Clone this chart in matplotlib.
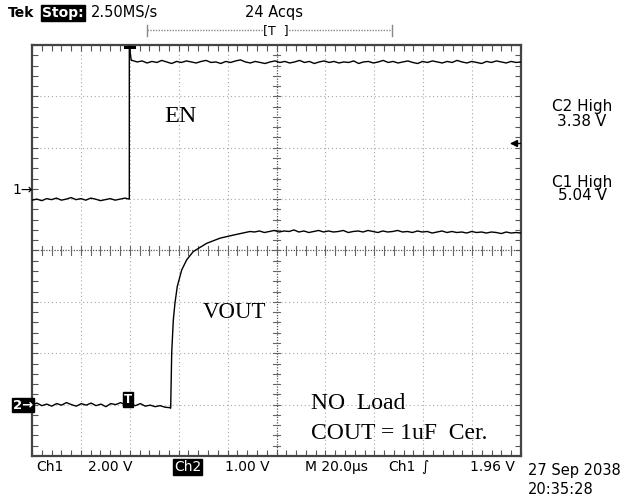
import numpy as np
import matplotlib
matplotlib.use("Agg")
import matplotlib.pyplot as plt
from matplotlib.lines import Line2D
from matplotlib.ticker import MultipleLocator

# Scope screenshot: EN (Ch1) and VOUT (Ch2) start-up, values in graticule divisions
# x: 0..10 div (20 us/div), y: -4..4 div

# EN low level before the edge (x 0 .. 1.9 div)
en_lo = [0.98, 1.00, 0.97, 1.01, 0.99, 1.02, 0.98, 1.00, 1.03, 0.99,
         1.01, 0.98, 1.02, 1.00, 0.97, 0.99, 1.01, 0.98, 1.00, 1.02]
# EN edge (x, y)
en_edge = [(1.99, 1.00), (1.99, 3.98), (2.03, 3.70)]
# EN high level after the edge (x 2.05 .. 10 div)
en_hi = [3.70, 3.67, 3.69, 3.65, 3.68, 3.66, 3.70, 3.67, 3.64, 3.68,
         3.66, 3.69, 3.67, 3.65, 3.68, 3.70, 3.66, 3.67, 3.64, 3.68,
         3.66, 3.69, 3.71, 3.67, 3.65, 3.68, 3.66, 3.64, 3.67, 3.69,
         3.66, 3.68, 3.65, 3.67, 3.70, 3.66, 3.68, 3.64, 3.67, 3.69,
         3.66, 3.68, 3.65, 3.67, 3.66, 3.69, 3.64, 3.67, 3.68, 3.65,
         3.67, 3.70, 3.66, 3.68, 3.65, 3.67, 3.69, 3.66, 3.64, 3.68,
         3.66, 3.69, 3.67, 3.65, 3.68, 3.66, 3.70, 3.67, 3.65, 3.68,
         3.66, 3.64, 3.68, 3.66, 3.69, 3.67, 3.65, 3.68, 3.66, 3.67]

# VOUT low level (x 0 .. 2.82 div)
vout_lo = [-3.00, -2.97, -3.02, -2.99, -3.03, -2.98, -3.01, -2.96, -3.00, -3.03,
           -2.98, -3.01, -2.97, -3.02, -2.99, -3.04, -2.98, -3.00, -2.96, -3.01,
           -2.99, -3.02, -2.98, -3.03, -3.01, -3.04, -3.02, -3.05, -3.06]
# VOUT rise (x, y)
vout_rise = [(2.836, -3.07), (2.857, -1.99), (2.89, -1.35), (2.924, -1.02),
             (2.971, -0.70), (3.061, -0.38), (3.164, -0.18), (3.299, -0.02),
             (3.573, 0.14), (3.845, 0.24), (4.117, 0.30), (4.458, 0.37)]
# VOUT settled level (x 4.55 .. 10 div)
vout_hi = [0.36, 0.38, 0.35, 0.37, 0.39, 0.36, 0.38, 0.37, 0.40, 0.36,
           0.38, 0.35, 0.37, 0.39, 0.36, 0.38, 0.36, 0.37, 0.39, 0.35,
           0.37, 0.38, 0.36, 0.39, 0.37, 0.35, 0.38, 0.36, 0.37, 0.39,
           0.36, 0.37, 0.35, 0.38, 0.36, 0.37, 0.34, 0.36, 0.38, 0.35,
           0.37, 0.35, 0.36, 0.34, 0.37, 0.35, 0.36, 0.34, 0.36, 0.35,
           0.33, 0.36, 0.34, 0.35, 0.34]

W, H = 625, 498
UI = "DejaVu Sans"
SERIF = "Liberation Serif"


def fx(x):
    return x / W


def fy(y):
    return 1 - y / H


fig = plt.figure(figsize=(W / 100, H / 100), dpi=100)
fig.patch.set_facecolor("white")
ax = fig.add_axes([fx(32), fy(456), 489 / W, 411 / H])
ax.set_xlim(0, 10)
ax.set_ylim(-4, 4)

# graticule
for i in range(1, 10):
    if i != 5:
        ax.axvline(i, color="#a8a8a8", lw=0.8, ls=(0, (1, 2.5)), zorder=1)
for j in range(-3, 4):
    if j != 0:
        ax.axhline(j, color="#a8a8a8", lw=0.8, ls=(0, (1, 2.5)), zorder=1)
ax.axvline(5, color="#555555", lw=0.9, ls=(0, (1, 1.2)), zorder=1)
ax.axhline(0, color="#555555", lw=0.9, ls=(0, (1, 1.2)), zorder=1)
for t in np.arange(0.2, 10, 0.2):
    ax.plot([t, t], [-0.08, 0.08], color="#666666", lw=0.8, zorder=1)
for t in np.arange(-3.8, 4, 0.2):
    ax.plot([4.92, 5.08], [t, t], color="#666666", lw=0.8, zorder=1)

ax.xaxis.set_major_locator(MultipleLocator(1))
ax.yaxis.set_major_locator(MultipleLocator(1))
ax.xaxis.set_minor_locator(MultipleLocator(0.2))
ax.yaxis.set_minor_locator(MultipleLocator(0.2))
ax.tick_params(which="both", direction="in", length=4, width=0.8, color="#555555",
               top=True, right=True, labelbottom=False, labelleft=False)
for s in ax.spines.values():
    s.set_color("#444444")
    s.set_linewidth(1.6)

# EN trace
en_x = list(np.linspace(0, 1.9, len(en_lo))) + [p[0] for p in en_edge] + \
    list(np.linspace(2.05, 10, len(en_hi)))
en_y = en_lo + [p[1] for p in en_edge] + en_hi
ax.plot(en_x, en_y, color="black", lw=1.0, zorder=3)

# VOUT trace
vo_x = list(np.linspace(0, 2.82, len(vout_lo))) + [p[0] for p in vout_rise] + \
    list(np.linspace(4.55, 10, len(vout_hi)))
vo_y = vout_lo + [p[1] for p in vout_rise] + vout_hi
ax.plot(vo_x, vo_y, color="black", lw=1.0, zorder=3)

# trigger markers
ax.plot([1.9, 2.08], [3.97, 3.97], color="black", lw=2.2, zorder=4, clip_on=False)
ax.plot([9.8, 9.98], [2.09, 2.09], color="black", lw=1.0, zorder=4)
ax.plot(9.86, 2.09, marker="<", color="black", ms=5, zorder=4)
ax.text(1.96, -2.9, "T", color="white", fontsize=8.5, fontweight="bold", family=UI,
        ha="center", va="center", zorder=5,
        bbox=dict(facecolor="black", edgecolor="black", pad=0.8))

# annotations
ax.text(2.7, 2.6, "EN", family=SERIF, fontsize=17.5, ha="left", va="center")
ax.text(3.5, -1.2, "VOUT", family=SERIF, fontsize=16.5, ha="left", va="center")
ax.text(5.7, -2.97, "NO  Load", family=SERIF, fontsize=17, ha="left", va="center")
ax.text(5.7, -3.56, "COUT = 1uF  Cer.", family=SERIF, fontsize=17, ha="left", va="center")

# header
fig.text(fx(8), fy(13), "Tek", family=UI, fontsize=10, fontweight="bold", va="center")
fig.text(fx(42), fy(13), "Stop:", family=UI, fontsize=10, fontweight="bold", color="white",
         va="center", bbox=dict(facecolor="black", edgecolor="black", pad=1.0))
fig.text(fx(91), fy(13), "2.50MS/s", family=UI, fontsize=10.5, va="center")
fig.text(fx(245), fy(13), "24 Acqs", family=UI, fontsize=10.5, va="center")
fig.add_artist(Line2D([fx(147), fx(392)], [fy(30.5), fy(30.5)], color="#888888",
                      lw=1.0, ls=(0, (1, 1))))
for xe in (147, 392):
    fig.add_artist(Line2D([fx(xe), fx(xe)], [fy(25), fy(36)], color="#888888", lw=1.0))
fig.text(fx(276), fy(31), "[T  ]", family=UI, fontsize=9, ha="center", va="center",
         bbox=dict(facecolor="white", edgecolor="none", pad=0.2))

# channel ground markers
fig.text(fx(12), fy(190), "1\u2192", family=UI, fontsize=10, va="center")
fig.text(fx(13), fy(405), "2\u2192", family=UI, fontsize=9.5, fontweight="bold", color="white",
         va="center", bbox=dict(facecolor="black", edgecolor="black", pad=0.6))

# right side readouts
for ty, s in [(107, "C2 High"), (121, "3.38 V"), (182, "C1 High"), (196, "5.04 V")]:
    fig.text(fx(582), fy(ty), s, family=UI, fontsize=11, ha="center", va="center")

# bottom readouts
by = 467
fig.text(fx(36), fy(by), "Ch1", family=UI, fontsize=10, va="center")
fig.text(fx(88), fy(by), "2.00 V", family=UI, fontsize=10, va="center")
fig.text(fx(174), fy(by), "Ch2", family=UI, fontsize=10, color="white", va="center",
         bbox=dict(facecolor="black", edgecolor="black", pad=0.8))
fig.text(fx(225), fy(by), "1.00 V", family=UI, fontsize=10, va="center")
fig.text(fx(305), fy(by), "M 20.0\u00b5s", family=UI, fontsize=10, va="center")
fig.text(fx(388), fy(by), "Ch1", family=UI, fontsize=10, va="center")
fig.text(fx(421), fy(by), "\u222b", family=UI, fontsize=10, va="center")
fig.text(fx(470), fy(by), "1.96 V", family=UI, fontsize=10, va="center")
fig.text(fx(528), fy(470), "27 Sep 2038", family=UI, fontsize=10.5, va="center")
fig.text(fx(528), fy(489), "20:35:28", family=UI, fontsize=10.5, va="center")

fig.savefig("out.png", dpi=100, facecolor="white")
